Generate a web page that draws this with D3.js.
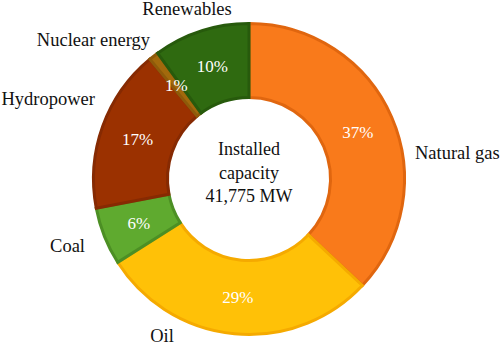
<!DOCTYPE html>
<html lang="en">
<head>
	<meta charset="utf-8">
	<script src="https://d3js.org/d3.v7.min.js"></script>
	<style>
		body { margin: 0; background: #fff; }
	</style>
</head>
<body>
	<div id="Chart1"></div>
<script>

// data
var sources = ["Natural gas", "Oil", "Coal", "Hydropower", "Nuclear energy", "Renewables"];
var shares = [37, 29, 6, 17, 1, 10];
var fills = ["#f97a1b", "#ffc107", "#5faa2f", "#9b3100", "#a2690c", "#2f6a10"];
var strokes = ["#e0660f", "#f5aa00", "#4c8f24", "#862a02", "#8e5a0a", "#275a0c"];
var centerLines = ["Installed", "capacity", "41,775 MW"];

// outer label placement (anchor + position)
var outerLabels = [
  {x: 415, y: 159, anchor: "start"},
  {x: 162, y: 342, anchor: "middle"},
  {x: 85, y: 252, anchor: "end"},
  {x: 95, y: 105, anchor: "end"},
  {x: 150, y: 46, anchor: "end"},
  {x: 187, y: 15, anchor: "middle"}
];

var serif = "'Liberation Serif', 'Times New Roman', Times, 'DejaVu Serif', serif";

var width = 500, height = 347;
var cx = 249, cy = 179, outerR = 157, innerR = 80;

var svg = d3.select("#Chart1")
.append("svg")
  .attr("width", width)
  .attr("height", height)
  .style("font-family", serif);

var g = svg.append("g")
  .attr("transform", "translate(" + cx + "," + cy + ")");

var data = sources.map(function(s, i) { return {name: s, value: shares[i], i: i}; });

var pie = d3.pie()
  .sort(null)
  .value(function(d) { return d.value; });

var arc = d3.arc()
  .innerRadius(innerR + 1.5)
  .outerRadius(outerR - 1.5);

var labelArc = d3.arc()
  .innerRadius((innerR + outerR) / 2)
  .outerRadius((innerR + outerR) / 2);

var arcs = pie(data);

g.selectAll("path")
  .data(arcs)
  .enter()
  .append("path")
    .attr("d", arc)
    .style("fill", function(d) { return fills[d.data.i]; })
    .style("stroke", function(d) { return strokes[d.data.i]; })
    .style("stroke-width", 3);

// percentages inside the ring
g.selectAll(".pct")
  .data(arcs)
  .enter()
  .append("text")
    .attr("class", "pct")
    .attr("transform", function(d) { var c = labelArc.centroid(d); return "translate(" + c[0] + "," + (c[1] + 6) + ")"; })
    .attr("text-anchor", "middle")
    .style("font-family", serif)
    .style("font-size", "17px")
    .style("fill", "#fff")
    .text(function(d) { return d.data.value + "%"; });

// category labels
svg.selectAll(".cat")
  .data(data)
  .enter()
  .append("text")
    .attr("class", "cat")
    .attr("x", function(d) { return outerLabels[d.i].x; })
    .attr("y", function(d) { return outerLabels[d.i].y; })
    .attr("text-anchor", function(d) { return outerLabels[d.i].anchor; })
    .style("font-family", serif)
    .style("font-size", "18.5px")
    .style("fill", "#111")
    .text(function(d) { return d.name; });

// center text
g.selectAll(".center")
  .data(centerLines)
  .enter()
  .append("text")
    .attr("class", "center")
    .attr("x", 0)
    .attr("y", function(d, i) { return -24 + i * 23.5; })
    .attr("text-anchor", "middle")
    .style("font-family", serif)
    .style("font-size", "18px")
    .style("fill", "#111")
    .text(function(d) { return d; });

</script>
</body>
</html>
